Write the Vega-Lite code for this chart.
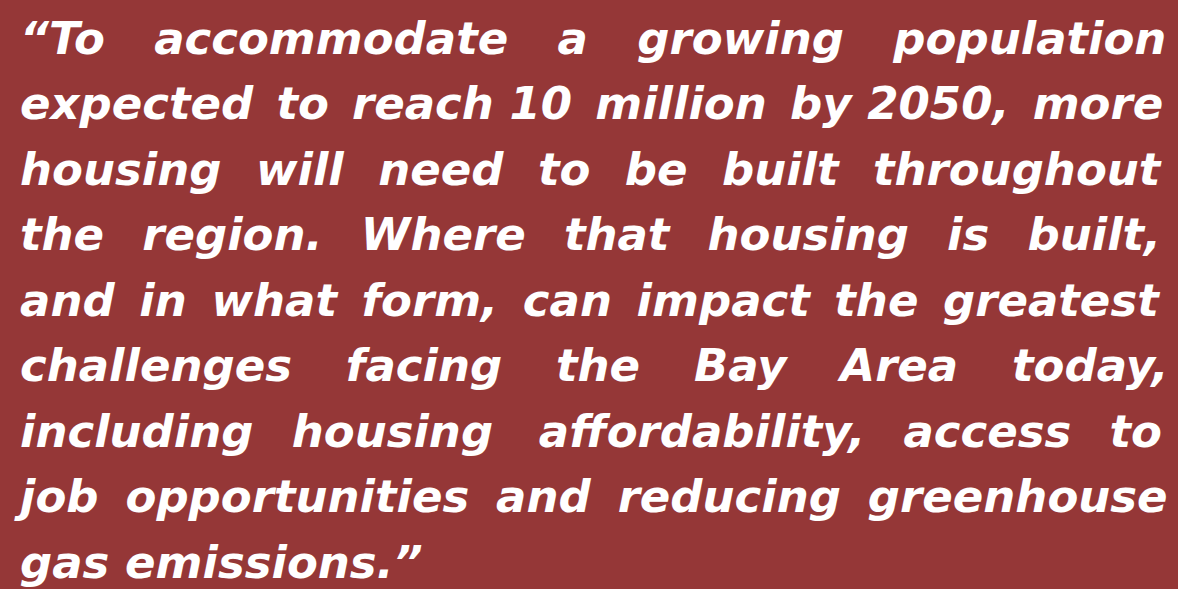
{
  "$schema": "https://vega.github.io/schema/vega-lite/v6.json",
  "width": 1178,
  "height": 589,
  "autosize": {"type": "fit", "contains": "padding"},
  "padding": 0,
  "background": "#953737",
  "config": {"view": {"stroke": null}},
  "data": {"values": [
    {"line": 1, "text": "“To \u2002\u2005accommodate \u2002\u2005a \u2002\u2005growing \u2002\u2005population"},
    {"line": 2, "text": "expected \u2006to \u2006reach 10 \u2006million \u2006by 2050, \u2006more"},
    {"line": 3, "text": "housing \u2005\u2006will \u2005\u2006need \u2005\u2006to \u2005\u2006be \u2005\u2006built \u2005\u2006throughout"},
    {"line": 4, "text": "the \u2002region. \u2002Where \u2002that \u2002housing \u2002is \u2002built,"},
    {"line": 5, "text": "and \u2009in \u2009what \u2009form, \u2009can \u2009impact \u2009the \u2009greatest"},
    {"line": 6, "text": "challenges \u2002\u00a0facing \u2002\u00a0the \u2002\u00a0Bay \u2002\u00a0Area \u2002\u00a0today,"},
    {"line": 7, "text": "including \u2002housing \u2002\u2006affordability, \u2002access \u2002to"},
    {"line": 8, "text": "job \u2005opportunities \u2005and \u2005reducing \u2005greenhouse"},
    {"line": 9, "text": "gas emissions.”"}
  ]},
  "mark": {"type": "text", "align": "left", "baseline": "alphabetic", "font": "DejaVu Sans", "fontSize": 45, "fontStyle": "italic", "fontWeight": "bold", "color": "#ffffff"},
  "encoding": {
    "x": {"datum": 0.017, "type": "quantitative", "scale": {"domain": [0, 1]}, "axis": null},
    "y": {"field": "line", "type": "quantitative", "scale": {"domain": [0.1756, 9.168], "reverse": true}, "axis": null},
    "text": {"field": "text"}
  }
}
